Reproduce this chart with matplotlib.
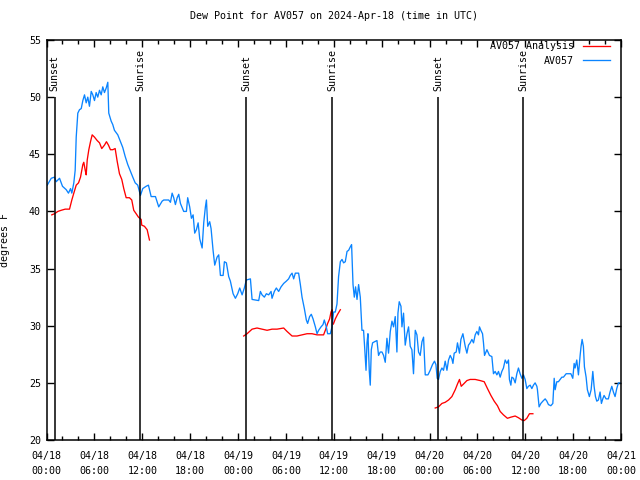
# Dew point chart for AV057, 2024-Apr-18 (time in UTC)
import matplotlib
matplotlib.use('Agg')
import matplotlib.pyplot as plt
import matplotlib.dates as mdates
import pandas as pd

start = pd.Timestamp('2024-04-18 00:00')

# station observations (hours since start, degrees F)
obs_hours = [0.09, 0.59, 1.00, 1.21, 1.63, 2.00, 2.47, 2.75, 3.01, 3.17, 3.42, 3.59, 3.72, 3.92,
             4.13, 4.35, 4.55, 4.76, 4.97, 5.17, 5.38, 5.60, 5.80, 6.01, 6.22, 6.42, 6.64, 6.85,
             7.05, 7.26, 7.48, 7.68, 7.80, 8.10, 8.30, 8.51, 8.93, 9.27, 9.55, 9.86, 10.18, 10.52,
             10.81, 11.11, 11.43, 11.77, 12.06, 12.48, 12.77, 13.11, 13.52, 13.65, 14.06, 14.49,
             14.69, 15.31, 15.53, 15.74, 15.94, 16.15, 16.37, 16.57, 16.78, 17.19, 17.53, 17.69,
             17.94, 18.16, 18.37, 18.57, 18.78, 19.00, 19.20, 19.50, 19.70, 19.91, 20.04, 20.20,
             20.45, 20.62, 20.87, 21.08, 21.37, 21.58, 21.79, 22.13, 22.29, 22.54, 22.83, 23.04,
             23.38, 23.67, 23.96, 24.21, 24.51, 24.79, 25.04, 25.55, 25.76, 26.59, 26.80, 27.01,
             27.30, 27.55, 27.84, 28.14, 28.26, 28.55, 28.80, 29.09, 29.39, 29.72, 30.05, 30.34,
             30.55, 30.77, 30.97, 31.18, 31.59, 31.81, 32.02, 32.31, 32.56, 32.72, 32.97, 33.18,
             33.40, 33.69, 33.90, 34.10, 34.40, 34.65, 34.81, 35.06, 35.23, 35.56, 35.78, 35.98,
             36.19, 36.40, 36.60, 36.82, 37.03, 37.23, 37.44, 37.66, 37.86, 38.07, 38.23, 38.41,
             38.57, 38.73, 38.91, 39.11, 39.32, 39.53, 39.73, 39.86, 40.04, 40.16, 40.28, 40.45,
             40.57, 40.70, 40.86, 41.11, 41.41, 41.61, 41.82, 42.04, 42.24, 42.45, 42.66, 42.86,
             43.08, 43.29, 43.49, 43.70, 43.91, 44.04, 44.20, 44.42, 44.54, 44.74, 44.95, 45.17,
             45.37, 45.58, 45.79, 45.99, 46.21, 46.42, 46.62, 46.83, 47.05, 47.25, 47.46, 47.80,
             48.08, 48.37, 48.62, 48.80, 48.96, 49.12, 49.34, 49.55, 49.75, 49.96, 50.18, 50.38,
             50.59, 50.80, 50.93, 51.09, 51.34, 51.50, 51.75, 51.93, 52.18, 52.47, 52.68, 52.88,
             53.09, 53.31, 53.51, 53.72, 53.93, 54.13, 54.26, 54.43, 54.64, 54.76, 54.89, 55.19,
             55.51, 55.81, 56.01, 56.22, 56.44, 56.64, 56.85, 57.06, 57.26, 57.48, 57.69, 57.89,
             58.01, 58.19, 58.31, 58.52, 58.73, 58.94, 59.14, 59.35, 59.57, 59.77, 59.98, 60.19,
             60.39, 60.61, 60.82, 61.02, 61.23, 61.45, 61.52, 61.73, 61.95, 62.20, 62.49, 62.70,
             62.90, 63.20, 63.45, 63.62, 63.74, 63.95, 64.15, 64.36, 64.58, 64.78, 65.12, 65.40,
             65.71, 65.95, 66.12, 66.24, 66.45, 66.66, 66.87, 66.99, 67.12, 67.28, 67.41, 67.62,
             67.78, 68.03, 68.25, 68.46, 68.62, 68.79, 68.96, 69.16, 69.37, 69.54, 69.71, 69.87,
             70.12, 70.41, 70.62, 70.84, 71.04, 71.25, 71.46, 71.67, 71.88]
obs_dewpt = [42.3, 42.9, 43.0, 42.6, 42.9, 42.2, 41.9, 41.6, 42.0, 41.6, 42.5, 43.6, 46.5, 48.6,
             48.9, 49.0, 49.7, 50.2, 49.5, 50.0, 49.2, 50.5, 50.2, 49.7, 50.4, 50.0, 50.6, 50.2,
             50.9, 50.4, 50.8, 51.3, 48.6, 47.9, 47.6, 47.1, 46.7, 46.1, 45.6, 44.8, 44.1, 43.5,
             43.0, 42.5, 42.3, 41.4, 42.0, 42.2, 42.3, 41.3, 41.3, 41.3, 40.4, 40.9,
             41.0, 41.0, 40.8, 41.6, 41.2, 40.6, 41.2, 41.5, 40.7, 40.0, 40.0, 41.2,
             40.4, 39.4, 39.7, 38.1, 38.4, 39.0, 37.6, 36.8, 39.0, 40.4, 41.0, 38.7,
             39.1, 38.5, 36.6, 35.3, 36.0, 36.2, 34.4, 34.4, 35.6, 35.5, 34.3, 33.9,
             32.8, 32.4, 32.8, 33.3, 32.7, 33.3, 34.0, 34.1, 32.3, 32.2, 33.0, 32.7,
             32.5, 32.8, 32.7, 33.0, 32.4, 33.0, 33.3, 33.0, 33.4, 33.7, 33.9, 34.1,
             34.4, 34.6, 34.1, 34.6, 34.6, 33.6, 32.5, 31.5, 30.5, 30.2, 30.8, 31.0,
             30.6, 29.9, 29.3, 29.6, 29.9, 30.1, 30.5, 29.9, 29.3, 29.3, 29.9, 31.2,
             31.2, 31.9, 34.3, 35.6, 35.8, 35.5, 35.6, 36.5, 36.6, 36.9, 37.1, 33.6,
             32.5, 33.4, 32.3, 33.6, 32.5, 29.6, 29.6, 28.2, 26.1, 28.5, 29.3, 26.0,
             24.8, 27.9, 28.5, 28.6, 28.7, 27.4, 27.7, 27.7, 27.4, 26.8, 28.9, 27.6,
             29.5, 30.4, 29.9, 30.8, 27.7, 31.1, 32.1, 31.7, 29.9, 31.1, 28.3, 29.3,
             29.9, 28.2, 27.9, 25.8, 29.6, 29.2, 27.7, 27.4, 28.6, 29.0, 25.7, 25.7,
             26.1, 26.6, 26.9, 26.6, 25.4, 25.3, 26.0, 26.3, 26.1, 26.9, 26.1, 27.0,
             27.4, 27.1, 26.7, 27.6, 27.7, 28.5, 27.6, 28.8, 29.3, 28.2, 27.6, 28.3,
             28.5, 28.8, 28.5, 29.2, 29.5, 29.2, 29.9, 29.6, 29.3, 28.5, 27.4, 27.9,
             27.4, 27.3, 25.8, 26.0, 25.7, 26.0, 25.5, 26.0, 26.3, 27.0, 26.7, 27.0,
             25.3, 24.8, 25.5, 25.4, 25.0, 25.8, 26.3, 25.8, 25.4, 25.7, 25.3, 24.5,
             24.7, 24.8, 24.5, 24.8, 25.0, 24.7, 24.4, 22.9, 23.2, 23.4, 23.6, 23.4,
             23.1, 23.0, 23.2, 25.4, 24.4, 25.1, 25.1, 25.3, 25.5, 25.5, 25.8, 25.8,
             25.8, 25.4, 26.7, 26.3, 27.0, 25.7, 27.4, 28.2, 28.8, 28.2, 26.4, 25.5,
             24.4, 23.8, 24.4, 26.0, 24.7, 23.8, 23.4, 23.5, 24.2, 23.2, 23.6, 23.9,
             23.6, 23.6, 24.2, 24.7, 24.2, 23.8, 24.5, 25.0, 25.0]

# analysis, three separate runs
ana_hours = [[0.66, 1.00, 1.42, 1.84, 2.34, 2.88, 3.17, 3.42, 3.72, 4.01, 4.26, 4.55, 4.67, 4.85,
              4.97, 5.10, 5.30, 5.51, 5.72, 6.01, 6.35, 6.64, 6.92, 7.26, 7.51, 7.76, 8.01, 8.30,
              8.60, 8.85, 9.14, 9.43, 9.68, 9.98, 10.39, 10.68, 10.93, 11.23, 11.52, 11.86, 11.93,
              12.27, 12.61, 12.77, 12.90],
             [24.71, 25.13, 25.76, 26.38, 27.01, 27.64, 28.26, 28.89, 29.72, 30.14, 30.77, 31.39,
              32.02, 32.65, 33.27, 33.90, 34.72, 34.94, 35.23, 35.48, 35.65, 35.78, 35.85, 35.98,
              36.19, 36.48, 36.82],
             [48.71, 49.12, 49.55, 49.96, 50.38, 50.80, 51.22, 51.50, 51.75, 51.97, 52.26, 52.68,
              53.09, 53.72, 54.35, 54.85, 55.26, 55.69, 56.10, 56.51, 56.85, 57.26, 57.76, 58.19,
              58.73, 59.14, 59.57, 59.86, 60.19, 60.52, 60.95]]
ana_dewpt = [[39.7, 39.8, 40.0, 40.1, 40.2, 40.2, 41.0, 41.6, 42.3, 42.5, 43.0, 44.1, 44.3, 43.6,
              43.2, 44.5, 45.4, 46.1, 46.7, 46.5, 46.2, 46.0, 45.5, 45.8, 46.1, 45.8, 45.4, 45.4,
              45.5, 44.4, 43.3, 42.8, 42.0, 41.2, 41.2, 41.0, 40.1, 39.8, 39.5, 39.3, 38.8,
              38.7, 38.4, 37.9, 37.5],
             [29.1, 29.3, 29.7, 29.8, 29.7, 29.6, 29.7, 29.7, 29.8, 29.5, 29.1, 29.1,
              29.2, 29.3, 29.3, 29.2, 29.2, 29.6, 30.2, 30.6, 31.2, 31.4, 30.1, 30.2,
              30.6, 31.0, 31.4],
             [22.8, 22.9, 23.2, 23.3, 23.5, 23.8, 24.4, 24.9, 25.3, 24.7, 24.9, 25.2,
              25.3, 25.3, 25.2, 25.1, 24.5, 23.9, 23.4, 23.0, 22.5, 22.2, 21.9, 22.0,
              22.1, 21.95, 21.75, 21.7, 21.9, 22.3, 22.3]]

sun_hours = [1.00, 11.77, 25.04, 35.81, 49.09, 59.73]
sun_labels = ['Sunset', 'Sunrise', 'Sunset', 'Sunrise', 'Sunset', 'Sunrise']

def to_time(h):
    return start + pd.to_timedelta(h, unit='h')

font = 'DejaVu Sans Mono'
fs = 7.2
plt.rcParams['font.family'] = font
plt.rcParams['font.size'] = fs

fig = plt.figure(figsize=(6.4, 4.8), dpi=100)
ax = fig.add_axes([0.0727, 0.0833, 0.8977, 0.8334])

for i in range(len(ana_hours)):
    ax.plot(to_time(ana_hours[i]), ana_dewpt[i], color='#ff0000', lw=0.95,
            label='AV057 Analysis' if i == 0 else None)
ax.plot(to_time(obs_hours), obs_dewpt, color='#0a84ff', lw=0.95, label='AV057')

for h, lab in zip(sun_hours, sun_labels):
    t = to_time(h)
    ax.vlines(t, 20, 50, color='black', lw=1.1)
    ax.text(t, 50.5, lab, rotation=90, ha='center', va='bottom', fontsize=fs)

ax.set_xlim(start, start + pd.Timedelta(hours=72))
ax.set_ylim(20, 55)
ax.set_yticks(range(20, 56, 5))
ax.xaxis.set_major_locator(mdates.HourLocator(byhour=[0, 6, 12, 18]))
ax.xaxis.set_minor_locator(mdates.HourLocator(byhour=range(0, 24, 2)))
ax.xaxis.set_major_formatter(mdates.DateFormatter('%m/%d\n%H:%M'))
ax.tick_params(which='both', direction='in', top=True, right=True, width=1)
ax.tick_params(which='major', length=5)
ax.tick_params(which='minor', length=3)
ax.tick_params(axis='x', pad=8)
ax.tick_params(axis='y', pad=4)
for lab in ax.get_xticklabels():
    lab.set_linespacing(1.65)
for s in ax.spines.values():
    s.set_linewidth(1.1)

ax.set_ylabel('degrees F')
ax.yaxis.set_label_coords(-0.063, 0.5)
ax.set_title('Dew Point for AV057 on 2024-Apr-18 (time in UTC)', pad=15, fontsize=fs)

ax.legend(loc='upper right', bbox_to_anchor=(0.981, 0.997), frameon=False, markerfirst=False,
          borderpad=0, borderaxespad=0, handlelength=2.7, handletextpad=0.9,
          labelspacing=0.45)

fig.savefig('out.png', dpi=100)
